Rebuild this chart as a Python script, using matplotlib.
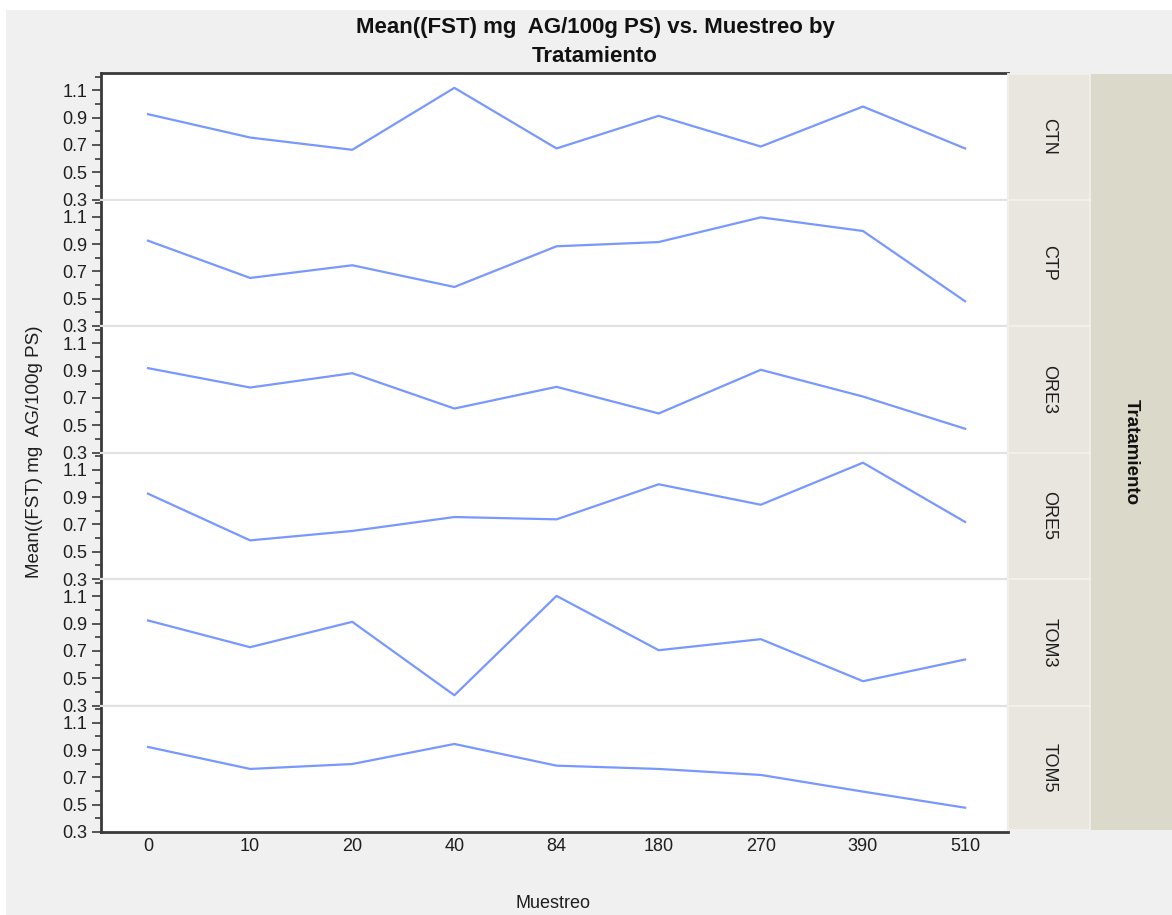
import matplotlib.pyplot as plt
from matplotlib.patches import Rectangle
from matplotlib.ticker import FixedLocator

plt.rcParams['font.family'] = ['Liberation Sans', 'DejaVu Sans']

# categories
muestreo = ['0', '10', '20', '40', '84', '180', '270', '390', '510']
tratamientos = ['CTN', 'CTP', 'ORE3', 'ORE5', 'TOM3', 'TOM5']

# mean FST per treatment
ctn = [0.925, 0.754, 0.664, 1.118, 0.674, 0.913, 0.688, 0.981, 0.674]
ctp = [0.925, 0.652, 0.745, 0.586, 0.884, 0.915, 1.096, 0.996, 0.481]
ore3 = [0.918, 0.776, 0.881, 0.622, 0.781, 0.586, 0.906, 0.710, 0.474]
ore5 = [0.925, 0.583, 0.652, 0.754, 0.737, 0.994, 0.844, 1.152, 0.718]
tom3 = [0.923, 0.727, 0.913, 0.375, 1.103, 0.705, 0.786, 0.478, 0.637]
tom5 = [0.923, 0.762, 0.798, 0.945, 0.786, 0.762, 0.718, 0.596, 0.478]
series = [ctn, ctp, ore3, ore5, tom3, tom5]

yticks = [0.3, 0.5, 0.7, 0.9, 1.1]
yminor = [0.4, 0.6, 0.8, 1.0, 1.2]

W, H = 1172, 915
fig = plt.figure(figsize=(W / 100, H / 100), dpi=100, facecolor='white')


def box(x0, y0, x1, y1):
    # pixel box (top-left origin) -> figure fraction rect
    return [x0 / W, 1 - y1 / H, (x1 - x0) / W, (y1 - y0) / H]


# grey window background
fig.patches.append(Rectangle((6 / W, 0), 1, 1 - 10 / H, transform=fig.transFigure,
                             facecolor='#f0f0f0', edgecolor='none', zorder=-10))
# outer strip for the grouping variable
fig.patches.append(Rectangle((1090 / W, 1 - 830 / H), 82 / W, 756 / H, transform=fig.transFigure,
                             facecolor='#dbd9c9', edgecolor='none', zorder=-5))

top, bottom = 73, 832
h = (bottom - top) / 6
dark = '#3a3a3a'
light = '#e2e2e2'
x = list(range(len(muestreo)))

axes = []
for i, (name, vals) in enumerate(zip(tratamientos, series)):
    y0 = top + i * h
    y1 = y0 + h
    ax = fig.add_axes(box(101, y0, 1008, y1))
    ax.plot(x, vals, color='#7898ff', lw=1.6)
    ax.set_xlim(-0.46, 8.42)
    ax.set_ylim(0.3, 0.3 + h / 136.5)
    ax.yaxis.set_major_locator(FixedLocator(yticks))
    ax.yaxis.set_minor_locator(FixedLocator(yminor))
    ax.set_yticklabels(['0.3', '0.5', '0.7', '0.9', '1.1'])
    ax.tick_params(axis='y', which='major', length=6.5, width=1.2, color=dark,
                   labelsize=13, pad=3.5, labelcolor='#1e1e1e')
    ax.tick_params(axis='y', which='minor', length=4, width=1.2, color=dark)
    ax.set_xticks(x)
    if i == 5:
        ax.set_xticklabels(muestreo)
        ax.tick_params(axis='x', length=0, labelsize=13, pad=4, labelcolor='#1e1e1e')
    else:
        ax.tick_params(axis='x', length=0, labelbottom=False)
    for s in ['left', 'right', 'top', 'bottom']:
        ax.spines[s].set_color(light)
        ax.spines[s].set_linewidth(1.5)
    ax.spines['left'].set_color(dark)
    ax.spines['left'].set_linewidth(2)
    if i == 0:
        ax.spines['top'].set_color(dark)
        ax.spines['top'].set_linewidth(2)
    if i == 5:
        ax.spines['bottom'].set_color(dark)
        ax.spines['bottom'].set_linewidth(2)
    axes.append(ax)

    # strip cell with treatment name
    sy0 = max(y0, 74)
    sy1 = min(y1, 830)
    sax = fig.add_axes(box(1008, sy0, 1090, sy1))
    sax.set_facecolor('#e8e6df')
    sax.set_xticks([])
    sax.set_yticks([])
    for s in sax.spines.values():
        s.set_color('#f2f1ec')
        s.set_linewidth(1.2)
    sax.text(0.5, 0.5, name, rotation=-90, ha='center', va='center',
             fontsize=13, color='#1e1e1e', transform=sax.transAxes)

fig.text(595 / W, 1 - 42 / H, 'Mean((FST) mg  AG/100g PS) vs. Muestreo by\nTratamiento',
         ha='center', va='center', fontsize=16, fontweight='bold', linespacing=1.5,
         color='#111111')
fig.text(35 / W, 1 - 452 / H, 'Mean((FST) mg  AG/100g PS)', rotation=90,
         ha='center', va='center', fontsize=13.5, color='#1e1e1e')
fig.text(553 / W, 1 - 903 / H, 'Muestreo', ha='center', va='center',
         fontsize=13, color='#1e1e1e')
fig.text(1131 / W, 1 - 452 / H, 'Tratamiento', rotation=-90, ha='center', va='center',
         fontsize=13.5, fontweight='bold', color='#111111')

fig.savefig('out.png', dpi=100, facecolor=fig.get_facecolor())
